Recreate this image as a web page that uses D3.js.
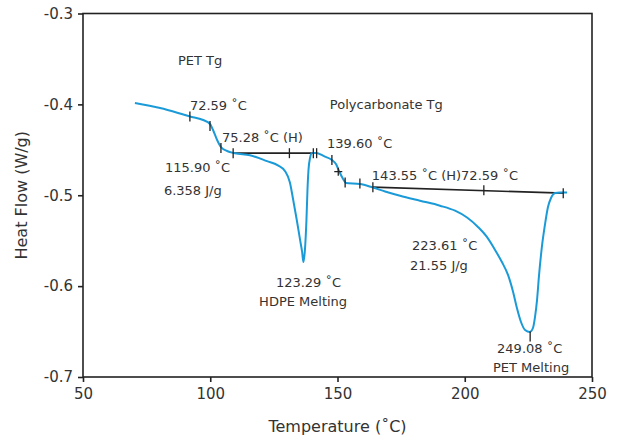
<!DOCTYPE html>
<html>
<head>
<meta charset="utf-8">
<script src="https://cdn.jsdelivr.net/npm/d3@7"></script>
<style>
  body { margin: 0; background: #fff; }
  svg text { font-family: "DejaVu Sans", "Liberation Sans", sans-serif; fill: #333; }
</style>
</head>
<body>
<div id="chart"></div>
<script>
// DSC trace: temperature (°C) and heat flow (W/g)
var temperature = [70.4, 80.3, 92.0, 97.2, 99.9, 101.1, 102.7, 104.2, 106.6, 109.7,
    115.6, 122.3, 126.6, 129.4, 131.3, 132.6, 134.0, 135.3, 136.1, 136.6,
    137.2, 137.8, 138.2, 138.6, 139.2, 140.0, 141.6, 144.7, 147.8, 149.4,
    150.6, 152.2, 153.3, 158.8, 163.9, 168.7, 174.6, 182.4, 190.3, 196.2,
    200.9, 205.2, 208.7, 211.9, 214.6, 217.0, 219.0, 220.5, 222.1, 223.7,
    225.6, 226.8, 227.6, 228.4, 229.2, 230.4, 231.5, 232.7, 233.9, 235.5,
    237.4, 240.2];
var heatFlow = [-0.3985, -0.404, -0.4133, -0.4172, -0.4216, -0.4282, -0.4392, -0.4469, -0.4513, -0.4538,
    -0.4560, -0.4625, -0.4672, -0.4735, -0.4860, -0.5052, -0.5272, -0.5492, -0.5624, -0.5735,
    -0.5602, -0.5272, -0.4942, -0.4722, -0.459, -0.4535, -0.4535, -0.457, -0.4612, -0.4656,
    -0.4733, -0.4821, -0.4865, -0.4876, -0.4915, -0.4958, -0.5005, -0.5060, -0.5115, -0.5170,
    -0.5245, -0.5349, -0.5459, -0.5602, -0.5735, -0.5877, -0.6064, -0.6241, -0.6395, -0.6483,
    -0.6505, -0.6461, -0.634, -0.6153, -0.5877, -0.5547, -0.5327, -0.5129, -0.503, -0.4975,
    -0.497, -0.497];

// integration baselines [T1, HF1, T2, HF2]
var baselines = [
    [109.0, -0.4537, 140.0, -0.4537],
    [163.9, -0.4911, 238.7, -0.4977]
];

// analysis markers on the curve [T, HF]
var markers = [[92.0, -0.4133], [99.9, -0.4238], [104.2, -0.4480], [109.0, -0.4537],
    [131.1, -0.4537], [140.5, -0.4537], [141.8, -0.4537], [147.8, -0.4612],
    [153.0, -0.4860], [158.8, -0.4871], [163.9, -0.4911], [207.5, -0.4944],
    [238.7, -0.4977], [225.7, -0.6555]];
var plusMarks = [[150.3, -0.4741]];

var xTicks = [50, 100, 150, 200, 250];
var yTicks = [-0.7, -0.6, -0.5, -0.4, -0.3];

var annoText = ["PET Tg", "72.59 \u02DAC", "75.28 \u02DAC (H)", "115.90 \u02DAC", "6.358 J/g",
    "Polycarbonate Tg", "139.60 \u02DAC", "143.55 \u02DAC (H)72.59 \u02DAC",
    "223.61 \u02DAC", "21.55 J/g", "123.29 \u02DAC", "HDPE Melting", "249.08 \u02DAC", "PET Melting"];
var annoT = [87.3, 92.0, 104.6, 82.2, 81.8, 147.0, 145.9, 163.5, 179.3, 178.5, 125.8, 119.2, 212.7, 211.1];
var annoHF = [-0.3567, -0.4062, -0.4414, -0.4744, -0.4997, -0.4051, -0.448, -0.4832,
    -0.5602, -0.5823, -0.601, -0.6215, -0.6736, -0.6942];

var width = 621, height = 443;
var margin = { top: 13.5, right: 29, bottom: 66, left: 83 };

var svg = d3.select("#chart").append("svg")
    .attr("width", width)
    .attr("height", height);

var x = d3.scaleLinear().domain([50, 250]).range([margin.left, width - margin.right]);
var y = d3.scaleLinear().domain([-0.7, -0.3]).range([height - margin.bottom, margin.top]);

// frame
svg.append("rect")
    .attr("x", x(50)).attr("y", y(-0.3))
    .attr("width", x(250) - x(50)).attr("height", y(-0.7) - y(-0.3))
    .attr("fill", "none").attr("stroke", "#222").attr("stroke-width", 1.6);

var xAxis = svg.append("g")
    .attr("transform", "translate(0," + y(-0.7) + ")")
    .call(d3.axisBottom(x).tickValues(xTicks).tickSize(5).tickPadding(6).tickFormat(d3.format("d")));
var yAxis = svg.append("g")
    .attr("transform", "translate(" + x(50) + ",0)")
    .call(d3.axisLeft(y).tickValues(yTicks).tickSize(5).tickPadding(5)
        .tickFormat(function (d) { return d.toFixed(1); }));
[xAxis, yAxis].forEach(function (a) {
    a.select(".domain").remove();
    a.selectAll("line").attr("stroke", "#222").attr("stroke-width", 1.6);
    a.selectAll("text").style("font-size", "15px").style("fill", "#333")
        .style("font-family", "DejaVu Sans");
});

svg.append("text")
    .attr("x", x(150)).attr("y", 432)
    .attr("text-anchor", "middle")
    .style("font-size", "16px")
    .text("Temperature (\u02DAC)");
svg.append("text")
    .attr("transform", "translate(27," + y(-0.5) + ") rotate(-90)")
    .attr("text-anchor", "middle")
    .style("font-size", "16px")
    .text("Heat Flow (W/g)");

// baselines
svg.selectAll(".base")
    .data(baselines)
    .enter().append("line")
    .attr("x1", function (d) { return x(d[0]); })
    .attr("y1", function (d) { return y(d[1]); })
    .attr("x2", function (d) { return x(d[2]); })
    .attr("y2", function (d) { return y(d[3]); })
    .attr("stroke", "#222").attr("stroke-width", 1.6);

// curve
var pts = temperature.map(function (t, i) { return [t, heatFlow[i]]; });
svg.append("path")
    .datum(pts)
    .attr("fill", "none")
    .attr("stroke", "#1b9ad8")
    .attr("stroke-width", 2)
    .attr("d", d3.line()
        .x(function (d) { return x(d[0]); })
        .y(function (d) { return y(d[1]); })
        .curve(d3.curveMonotoneX));

// markers
svg.selectAll(".mk")
    .data(markers)
    .enter().append("line")
    .attr("x1", function (d) { return x(d[0]); })
    .attr("x2", function (d) { return x(d[0]); })
    .attr("y1", function (d) { return y(d[1]) - 5; })
    .attr("y2", function (d) { return y(d[1]) + 5; })
    .attr("stroke", "#222").attr("stroke-width", 1.3);
plusMarks.forEach(function (d) {
    svg.append("path")
        .attr("d", "M" + (x(d[0]) - 4) + "," + y(d[1]) + "h8M" + x(d[0]) + "," + (y(d[1]) - 4) + "v8")
        .attr("stroke", "#222").attr("stroke-width", 1.3);
});

// annotations
svg.selectAll(".anno")
    .data(annoText)
    .enter().append("text")
    .attr("x", function (d, i) { return x(annoT[i]); })
    .attr("y", function (d, i) { return y(annoHF[i]); })
    .style("font-size", "13px")
    .text(function (d) { return d; });
</script>
</body>
</html>
